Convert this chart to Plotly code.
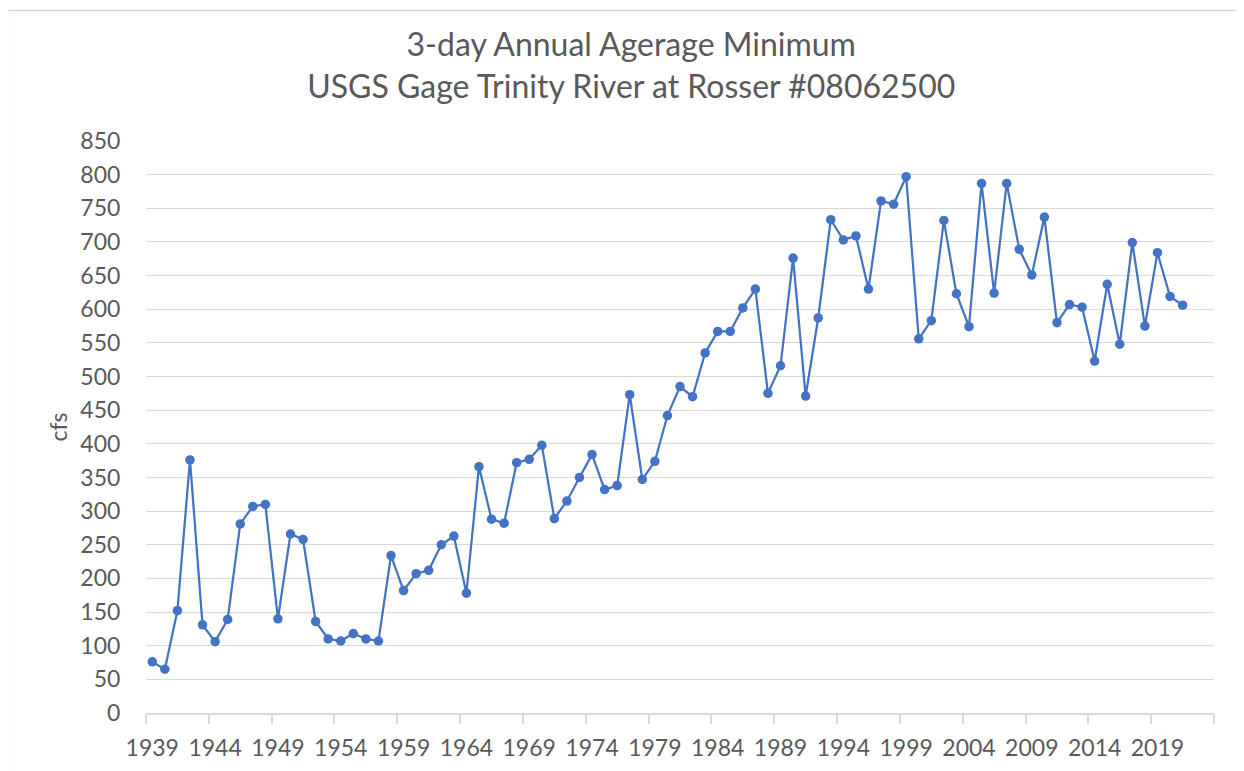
import plotly.graph_objects as go

years = [1939, 1940, 1941, 1942, 1943, 1944, 1945, 1946, 1947, 1948,
         1949, 1950, 1951, 1952, 1953, 1954, 1955, 1956, 1957, 1958,
         1959, 1960, 1961, 1962, 1963, 1964, 1965, 1966, 1967, 1968,
         1969, 1970, 1971, 1972, 1973, 1974, 1975, 1976, 1977, 1978,
         1979, 1980, 1981, 1982, 1983, 1984, 1985, 1986, 1987, 1988,
         1989, 1990, 1991, 1992, 1993, 1994, 1995, 1996, 1997, 1998,
         1999, 2000, 2001, 2002, 2003, 2004, 2005, 2006, 2007, 2008,
         2009, 2010, 2011, 2012, 2013, 2014, 2015, 2016, 2017, 2018,
         2019, 2020, 2021]

cfs = [76, 65, 152, 376, 131, 106, 139, 281, 307, 310,
       140, 266, 258, 136, 110, 107, 118, 110, 107, 234,
       182, 207, 212, 250, 263, 178, 366, 288, 282, 372,
       377, 398, 289, 315, 350, 384, 332, 338, 473, 347,
       374, 442, 485, 470, 535, 567, 567, 602, 630, 475,
       516, 676, 471, 587, 733, 703, 709, 630, 761, 756,
       797, 556, 583, 732, 623, 574, 787, 624, 787, 689,
       651, 737, 580, 607, 603, 523, 637, 548, 699, 575,
       684, 619, 606]

tick_years = [1939, 1944, 1949, 1954, 1959, 1964, 1969, 1974, 1979,
              1984, 1989, 1994, 1999, 2004, 2009, 2014, 2019]
tick_labels = [str(y) for y in tick_years]

FONT = "Lato, 'Open Sans', sans-serif"
GRAY = "#595959"
GRID = "#D9D9D9"
BLUE = "#4472C4"

fig = go.Figure(
    go.Scatter(
        x=years, y=cfs, mode="lines+markers",
        line=dict(color=BLUE, width=2.25),
        marker=dict(size=9.5, color=BLUE),
        showlegend=False,
    )
)

fig.update_layout(
    width=1244, height=771,
    margin=dict(l=138, r=38, t=133, b=66),
    paper_bgcolor="white", plot_bgcolor="white",
    font=dict(family=FONT, color=GRAY),
    title=dict(
        text="3-day Annual Agerage Minimum<br>USGS Gage Trinity River at Rosser #08062500",
        font=dict(size=32, color=GRAY, family=FONT),
        xref="container", x=0.501, xanchor="center",
        yref="container", y=0.9376, yanchor="top",
    ),
    xaxis=dict(
        range=[1938.5, 2023.5], automargin=False,
        tickmode="array", tickvals=tick_years, ticktext=tick_labels,
        ticks="outside", ticklen=14, tickcolor="rgba(0,0,0,0)",
        tickfont=dict(size=23, color=GRAY, family=FONT),
        showgrid=False, zeroline=False,
        showline=True, linecolor=GRID, linewidth=1.5,
        minor=dict(tickmode="linear", tick0=1938.5, dtick=5, ticks="outside",
                   ticklen=9, tickcolor=GRID, tickwidth=1.5, showgrid=False),
    ),
    yaxis=dict(
        range=[0, 850], tick0=0, dtick=50, automargin=False,
        showgrid=True, gridcolor=GRID, gridwidth=1.3,
        zeroline=False, showline=False,
        ticks="outside", ticklen=20, tickcolor="rgba(0,0,0,0)",
        tickfont=dict(size=23, color=GRAY, family=FONT),
        title=dict(text="cfs", font=dict(size=23, color=GRAY, family=FONT), standoff=6),
    ),
    shapes=[
        dict(type="line", xref="paper", yref="paper",
             x0=-0.1298, x1=-0.1298, y0=-0.2, y1=1.228,
             line=dict(color=GRID, width=1.5)),
        dict(type="line", xref="paper", yref="paper",
             x0=-0.1298, x1=1.2, y0=1.228, y1=1.228,
             line=dict(color=GRID, width=1.5)),
    ],
)

fig.write_html("out.html")
